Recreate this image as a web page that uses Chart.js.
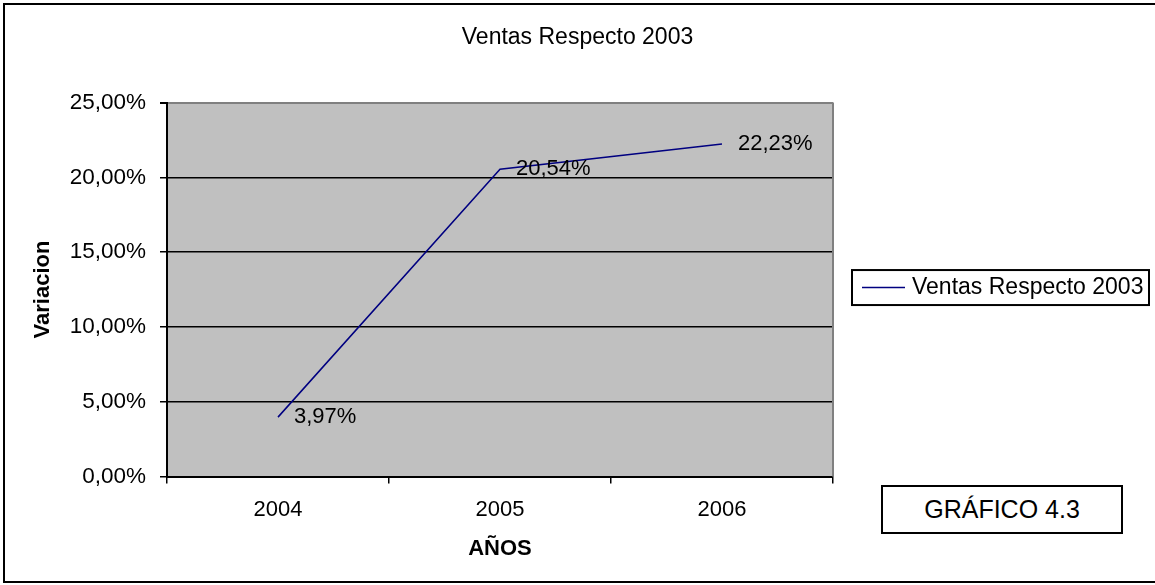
<!DOCTYPE html>
<html lang="es">
<head>
  <meta charset="UTF-8" />
  <title>Ventas Respecto 2003</title>
  <script src="https://cdn.jsdelivr.net/npm/chart.js"></script>
  <style>
    html, body {
      margin: 0;
      padding: 0;
      background: #ffffff;
      overflow: hidden;
    }
    .wrap {
      position: relative;
      width: 1155px;
      height: 585px;
    }
    .marco {
      position: absolute;
      left: 3px;
      top: 3px;
      width: 1200px;
      height: 576px;
      border: 2px solid #000;
    }
    #grafico {
      position: absolute;
      left: 0;
      top: 0;
    }
    .etiqueta {
      position: absolute;
      left: 881px;
      top: 485px;
      width: 238px;
      height: 45px;
      border: 2px solid #000;
      background: #fff;
      font-family: 'Liberation Sans', Arial, sans-serif;
      font-size: 25px;
      line-height: 45px;
      text-align: center;
      color: #000;
    }
  </style>
</head>
<body>

<div class="wrap">
  <div class="marco"></div>
  <canvas id="grafico" width="1155" height="585"></canvas>
  <div class="etiqueta">GRÁFICO 4.3</div>
</div>

<script>
// datos del grafico
const anios = ['2004', '2005', '2006'];
const variacion = [3.97, 20.54, 22.23];
const ejeMin = 0, ejeMax = 25, ejePaso = 5;

const fmtPct = v => v.toFixed(2).replace('.', ',') + '%';
const fuente = "'Liberation Sans', Arial, sans-serif";

Chart.defaults.font.family = fuente;
Chart.defaults.color = '#000';

// fondo gris y borde gris a la derecha del area
const fondoArea = {
  id: 'fondoArea',
  beforeDraw(chart) {
    const {ctx, chartArea: a} = chart;
    ctx.save();
    ctx.fillStyle = '#c0c0c0';
    ctx.fillRect(a.left, a.top, a.right - a.left, a.bottom - a.top);
    ctx.restore();
  },
  beforeDatasetsDraw(chart) {
    const {ctx, chartArea: a} = chart;
    ctx.save();
    ctx.strokeStyle = '#808080';
    ctx.lineWidth = 2;
    ctx.beginPath();
    ctx.moveTo(a.right, a.top);
    ctx.lineTo(a.right, a.bottom);
    ctx.stroke();
    ctx.restore();
  }
};

// etiquetas de valor a la derecha de cada punto
const etiquetasValor = {
  id: 'etiquetasValor',
  afterDatasetsDraw(chart) {
    const {ctx} = chart;
    const meta = chart.getDatasetMeta(0);
    ctx.save();
    ctx.font = '22px ' + fuente;
    ctx.fillStyle = '#000';
    ctx.textAlign = 'left';
    ctx.textBaseline = 'middle';
    meta.data.forEach((pt, i) => {
      ctx.fillText(fmtPct(variacion[i]), pt.x + 16, pt.y);
    });
    ctx.restore();
  }
};

// leyenda con recuadro, a la derecha del area
const leyenda = {
  id: 'leyenda',
  afterDraw(chart) {
    const {ctx, chartArea: a} = chart;
    const ds = chart.data.datasets[0];
    const x0 = a.right + 19;
    const yc = (a.top + a.bottom) / 2 - 2;
    ctx.save();
    ctx.fillStyle = '#fff';
    ctx.fillRect(x0, yc - 17.5, 297, 35);
    ctx.strokeStyle = '#000';
    ctx.lineWidth = 2;
    ctx.strokeRect(x0, yc - 17.5, 297, 35);
    ctx.strokeStyle = ds.borderColor;
    ctx.lineWidth = ds.borderWidth;
    ctx.beginPath();
    ctx.moveTo(x0 + 10, yc);
    ctx.lineTo(x0 + 53, yc);
    ctx.stroke();
    ctx.font = '23px ' + fuente;
    ctx.fillStyle = '#000';
    ctx.textAlign = 'left';
    ctx.textBaseline = 'middle';
    ctx.fillText(ds.label, x0 + 60, yc);
    ctx.restore();
  }
};

new Chart(document.getElementById('grafico'), {
  type: 'line',
  data: {
    labels: anios,
    datasets: [{
      label: 'Ventas Respecto 2003',
      data: variacion,
      borderColor: '#000080',
      backgroundColor: '#000080',
      borderWidth: 1.5,
      pointRadius: 0,
      tension: 0,
      fill: false
    }]
  },
  options: {
    responsive: false,
    animation: false,
    devicePixelRatio: 1,
    layout: { padding: 0 },
    plugins: {
      title: {
        display: true,
        text: 'Ventas Respecto 2003',
        color: '#000',
        font: { size: 23, weight: 'normal' },
        padding: { top: 24, bottom: 51 }
      },
      legend: { display: false },
      tooltip: { enabled: false }
    },
    scales: {
      x: {
        type: 'category',
        offset: true,
        afterFit(scale) { scale.height = 108.5; },
        grid: {
          offset: true,
          drawOnChartArea: false,
          drawTicks: true,
          tickLength: 7,
          color: '#000',
          lineWidth: 1.5
        },
        border: { display: true, color: '#000', width: 2 },
        ticks: { color: '#000', font: { size: 22 }, padding: 13 },
        title: {
          display: true,
          text: 'AÑOS',
          color: '#000',
          font: { size: 22, weight: 'bold' },
          padding: { top: 4, bottom: 23 }
        }
      },
      y: {
        min: ejeMin,
        max: ejeMax,
        afterFit(scale) { scale.width = 167; },
        grid: {
          color: ctx => (ctx.tick && ctx.tick.value === ejeMax) ? '#808080' : '#000',
          tickColor: '#000',
          lineWidth: ctx => (ctx.tick && ctx.tick.value === ejeMax) ? 2 : 1.5,
          tickLength: 7
        },
        border: { display: true, color: '#000', width: 2 },
        ticks: {
          stepSize: ejePaso,
          color: '#000',
          font: { size: 22.5 },
          padding: 14,
          callback: v => fmtPct(v)
        },
        title: {
          display: true,
          text: 'Variacion',
          color: '#000',
          font: { size: 22, weight: 'bold' },
          padding: { top: 30, bottom: 0 }
        }
      },
      // eje vacio a la derecha: reserva el sitio de la leyenda
      espacio: {
        type: 'linear',
        position: 'right',
        afterFit(scale) { scale.width = 322; },
        grid: { drawOnChartArea: false, drawTicks: false },
        border: { display: false },
        ticks: { display: false }
      }
    }
  },
  plugins: [fondoArea, etiquetasValor, leyenda]
});
</script>

</body>
</html>
